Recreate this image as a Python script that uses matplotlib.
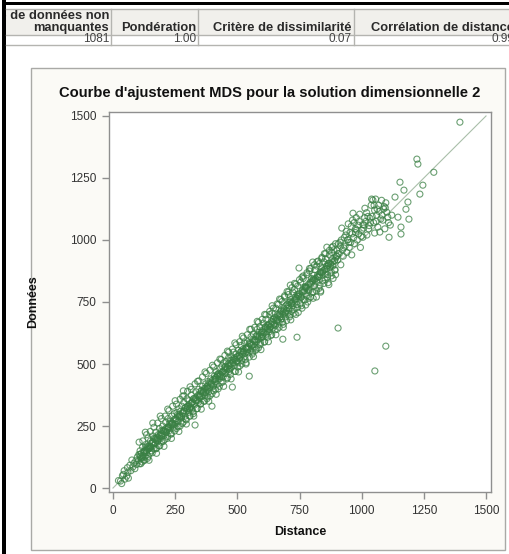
import numpy as np
import matplotlib.pyplot as plt
from matplotlib.patches import Rectangle

plt.rcParams['font.family'] = ['Liberation Sans', 'DejaVu Sans']

# tableau au-dessus du graphique
table_header = ["Nombre de données non\nmanquantes", "Pondération",
                "Critère de dissimilarité", "Corrélation de distance"]
table_values = ["1081", "1.00", "0.07", "0.99"]

title = "Courbe d'ajustement MDS pour la solution dimensionnelle 2"
xticks = [0, 250, 500, 750, 1000, 1250, 1500]
yticks = [0, 250, 500, 750, 1000, 1250, 1500]

# points, par tranche de distance
seg_a_x = [22, 30, 35, 38, 45, 48, 55, 60, 62, 68,
           72, 76, 80, 84, 88, 92, 95, 98, 58, 42]
seg_a_y = [30, 28, 18, 50, 70, 36, 48, 64, 40, 92,
           70, 113, 85, 100, 78, 110, 95, 125, 82, 55]

seg_b_x = [102, 104, 107, 109, 112, 114, 117, 119, 122, 124,
           127, 129, 131, 134, 136, 139, 141, 143, 146, 148,
           151, 153, 156, 158, 160, 163, 165, 168, 170, 172,
           175, 177, 180, 182, 185, 187, 190, 192, 195, 197,
           200, 202, 205, 207, 210, 212, 215, 217, 220, 222,
           225, 227, 230, 232, 235, 237, 240, 242, 245, 247,
           250, 252, 255, 257, 260, 262, 265, 267, 270, 272,
           275, 277, 280, 282, 285, 287, 290, 292, 295, 297,
           110, 125, 138, 150, 162, 178, 193, 208, 223, 238,
           253, 268, 283, 298, 118, 133, 148, 173, 198, 218]
seg_b_y = [110, 135, 98, 150, 120, 140, 105, 165, 130, 112,
           150, 128, 175, 142, 160, 120, 201, 158, 170, 140,
           190, 165, 150, 185, 210, 172, 158, 198, 180, 225,
           160, 205, 188, 215, 170, 240, 200, 222, 185, 210,
           250, 230, 212, 195, 238, 265, 225, 245, 208, 280,
           248, 232, 270, 255, 218, 290, 262, 245, 275, 300,
           258, 280, 240, 305, 288, 268, 320, 295, 250, 310,
           282, 330, 300, 265, 345, 312, 290, 325, 275, 360,
           128, 145, 155, 168, 182, 198, 215, 228, 242, 258,
           272, 288, 305, 318, 122, 150, 162, 195, 218, 236]

seg_c_x = [300, 303, 305, 308, 310, 313, 315, 318, 320, 323,
           325, 328, 330, 333, 335, 338, 340, 343, 345, 348,
           350, 353, 355, 358, 360, 363, 365, 368, 370, 373,
           375, 378, 380, 383, 385, 388, 390, 393, 395, 398,
           400, 403, 405, 408, 410, 413, 415, 418, 420, 423,
           425, 428, 430, 433, 435, 438, 440, 443, 445, 448,
           450, 453, 455, 458, 460, 463, 465, 468, 470, 473,
           475, 478, 480, 482, 485, 488, 490, 493, 495, 498,
           305, 318, 332, 345, 362, 378, 392, 408, 422, 438,
           452, 466, 482, 496, 312, 352, 372, 412, 432, 472]
seg_c_y = [330, 305, 352, 322, 290, 340, 375, 318, 348, 300,
           360, 335, 254, 388, 352, 320, 372, 345, 398, 365,
           380, 340, 392, 368, 410, 385, 350, 402, 375, 420,
           395, 360, 412, 430, 388, 405, 372, 440, 418, 330,
           435, 410, 392, 452, 428, 445, 470, 418, 455, 400,
           462, 440, 480, 455, 425, 492, 468, 448, 505, 475,
           488, 462, 510, 480, 445, 500, 525, 470, 495, 515,
           485, 530, 407, 505, 548, 495, 520, 470, 540, 512,
           335, 345, 362, 375, 392, 408, 422, 440, 452, 466,
           480, 492, 515, 525, 325, 372, 402, 438, 458, 502]

seg_d_x = [500, 503, 505, 508, 510, 513, 515, 518, 520, 523,
           525, 528, 530, 533, 535, 538, 540, 543, 545, 548,
           550, 553, 555, 558, 560, 563, 565, 568, 570, 573,
           575, 578, 580, 583, 585, 588, 590, 593, 595, 598,
           600, 603, 605, 608, 610, 613, 615, 618, 620, 623,
           625, 628, 630, 633, 635, 638, 640, 643, 645, 648,
           650, 653, 655, 658, 660, 663, 665, 668, 670, 673,
           675, 678, 680, 683, 685, 688, 690, 693, 695, 698,
           508, 522, 537, 552, 567, 582, 597, 612, 627, 642,
           657, 672, 687, 512, 542, 572, 602, 632, 662, 692]
seg_d_y = [530, 505, 555, 522, 492, 548, 575, 515, 540, 560,
           548, 585, 530, 565, 505, 560, 590, 545, 570, 451,
           582, 555, 610, 575, 540, 598, 620, 568, 595, 555,
           612, 590, 640, 600, 565, 628, 650, 585, 620, 605,
           635, 610, 665, 625, 590, 648, 680, 620, 655, 640,
           660, 630, 700, 650, 615, 672, 705, 645, 680, 660,
           688, 655, 725, 675, 640, 700, 740, 668, 705, 690,
           712, 682, 752, 700, 660, 725, 770, 690, 735, 715,
           535, 552, 565, 580, 595, 612, 628, 642, 655, 670,
           685, 700, 718, 528, 558, 588, 618, 648, 680, 708]

seg_e_x = [700, 703, 705, 708, 710, 713, 715, 718, 720, 723,
           725, 728, 730, 733, 735, 738, 740, 743, 745, 748,
           750, 753, 755, 758, 760, 763, 765, 768, 770, 773,
           775, 778, 780, 783, 785, 788, 790, 793, 795, 798,
           800, 803, 805, 808, 810, 813, 815, 818, 820, 823,
           825, 828, 830, 833, 835, 838, 840, 843, 845, 848,
           850, 853, 855, 858, 860, 863, 865, 868, 870, 873,
           875, 878, 880, 883, 885, 888, 890, 893, 895, 898,
           705, 718, 732, 748, 762, 778, 792, 808, 822, 838,
           852, 866, 882, 896, 712, 742, 772, 802, 832, 862]
seg_e_y = [740, 705, 780, 725, 690, 818, 760, 712, 745, 790,
           752, 720, 800, 770, 700, 765, 740, 815, 775, 887,
           785, 742, 830, 770, 725, 800, 845, 760, 795, 812,
           808, 775, 860, 750, 820, 795, 875, 830, 770, 845,
           830, 911, 790, 858, 815, 880, 845, 770, 895, 860,
           850, 805, 905, 870, 790, 888, 930, 835, 875, 912,
           880, 840, 925, 895, 971, 860, 905, 820, 940, 890,
           905, 870, 950, 925, 845, 960, 915, 880, 985, 935,
           735, 748, 762, 780, 795, 810, 825, 840, 852, 868,
           882, 898, 912, 928, 752, 772, 805, 835, 860, 895]

seg_f_x = [900, 903, 906, 910, 913, 916, 920, 923, 926, 930,
           933, 936, 940, 943, 946, 950, 953, 956, 960, 963,
           965, 968, 972, 975, 978, 982, 985, 988, 992, 995,
           1000, 1005, 1008, 1013, 1017, 1021, 1025, 1030, 1033, 1038,
           1040, 1045, 1048, 1052, 1056, 1060, 1065, 1068, 1073, 1077,
           1080, 1085, 1088, 1093, 1097, 1101, 1105, 1110, 1115, 1121,
           915, 945, 975, 1005, 1035, 1062, 1090, 1012, 958, 1052,
           905, 918, 928, 938, 948, 962, 970, 980, 990, 998,
           1010, 1020, 1028, 1042, 1050, 1058, 1070, 1082, 1095, 1108]
seg_f_y = [959, 920, 985, 945, 991, 900, 1048, 960, 935, 1010,
           975, 1020, 950, 1000, 1065, 970, 1030, 990, 940, 1080,
           1108, 1010, 985, 1045, 1090, 1000, 1060, 1025, 1104, 970,
           1040, 1011, 1048, 1128, 1075, 1020, 1095, 1058, 1088, 1140,
           1165, 1161, 1070, 1120, 1165, 1100, 1052, 1140, 1032, 1085,
           1160, 1080, 1125, 1045, 1150, 1112, 1092, 1011, 1060, 1100,
           975, 1002, 1030, 1062, 1070, 1125, 1135, 1090, 1055, 1028,
           945, 1000, 968, 1035, 990, 1025, 1070, 1040, 1075, 1015,
           1060, 1110, 1045, 1095, 1140, 1075, 1115, 1100, 1130, 1070]

seg_g_x = [1134, 1146, 1154, 1158, 1158, 1170, 1178, 1186, 1190, 1222,
           1226, 1234, 1246, 1290, 1395]
seg_g_y = [1173, 1092, 1233, 1052, 1024, 1201, 1124, 1153, 1084, 1326,
           1306, 1185, 1221, 1273, 1475]

# bords de la bande (intérieur et extérieur) et son centre
upper_x = [105, 120, 135, 150, 165, 180, 195, 210, 225, 240,
           255, 270, 285, 300, 315, 330, 345, 360, 375, 390,
           405, 420, 435, 450, 465, 480, 495, 510, 525, 540,
           555, 570, 585, 600, 615, 630, 645, 660, 675, 690,
           705, 720, 735, 750, 765, 780, 795, 810, 825, 840,
           855, 870, 885]
upper_y = [185, 190, 215, 228, 245, 262, 280, 290, 312, 330,
           338, 358, 372, 390, 398, 420, 432, 448, 462, 475,
           488, 505, 518, 535, 548, 560, 578, 590, 605, 618,
           640, 648, 668, 680, 698, 712, 725, 742, 760, 775,
           790, 808, 822, 840, 855, 868, 885, 900, 915, 925,
           945, 958, 975]
lower_x = [112, 128, 142, 158, 172, 188, 202, 218, 232, 248,
           262, 278, 292, 308, 322, 338, 352, 368, 382, 398,
           412, 428, 442, 458, 472, 488, 502, 518, 532, 548,
           562, 578, 592, 608, 622, 638, 652, 668, 682, 698,
           712, 728, 742, 758, 772, 788, 802, 818, 832, 848,
           862, 878, 892]
lower_y = [98, 112, 128, 142, 158, 170, 188, 200, 218, 230,
           248, 260, 278, 290, 308, 320, 338, 350, 368, 380,
           398, 410, 428, 440, 458, 470, 488, 500, 518, 528,
           548, 560, 578, 588, 608, 618, 638, 648, 668, 675,
           698, 705, 728, 735, 758, 765, 790, 795, 818, 825,
           848, 855, 878]
upper2_x = [130, 160, 190, 220, 250, 280, 310, 340, 370, 400,
            430, 460, 490, 520, 550, 580, 610, 640, 670, 700,
            730, 760, 790, 820, 850, 880]
upper2_y = [225, 262, 290, 318, 352, 370, 408, 430, 468, 495,
            520, 552, 585, 612, 640, 672, 700, 735, 762, 792,
            825, 850, 885, 912, 945, 970]
lower2_x = [145, 175, 205, 235, 265, 295, 325, 355, 385, 415,
            445, 475, 505, 535, 565, 595, 625, 655, 685, 715,
            745, 775, 805, 835, 865, 895]
lower2_y = [112, 140, 168, 200, 228, 258, 290, 318, 350, 378,
            410, 440, 468, 500, 530, 558, 590, 618, 648, 678,
            708, 738, 765, 795, 828, 860]
core_x = [108, 124, 140, 156, 172, 188, 204, 220, 236, 252,
          268, 284, 300, 316, 332, 348, 364, 380, 396, 412,
          428, 444, 460, 476, 492, 508, 524, 540, 556, 572,
          588, 604, 620, 636, 652, 668, 684, 700, 716, 732,
          748, 764, 780, 796, 812, 828, 844, 860, 876, 892]
core_y = [135, 148, 168, 180, 200, 212, 232, 243, 262, 278,
          290, 310, 322, 342, 355, 372, 390, 402, 420, 438,
          450, 470, 485, 500, 518, 532, 548, 566, 580, 598,
          612, 630, 645, 662, 676, 695, 710, 725, 742, 758,
          772, 790, 805, 822, 838, 852, 870, 885, 900, 918]
core2_x = [116, 132, 148, 164, 180, 196, 212, 228, 244, 260,
           276, 292, 308, 324, 340, 356, 372, 388, 404, 420,
           436, 452, 468, 484, 500, 516, 532, 548, 564, 580,
           596, 612, 628, 644, 660, 676, 692, 708, 724, 740,
           756, 772, 788, 804, 820, 836, 852, 868, 884, 900]
core2_y = [125, 165, 160, 200, 192, 232, 225, 262, 255, 295,
           290, 325, 318, 360, 352, 392, 385, 425, 415, 458,
           448, 490, 478, 522, 512, 552, 545, 585, 578, 618,
           610, 650, 640, 682, 672, 715, 705, 748, 735, 780,
           768, 810, 800, 842, 832, 872, 862, 905, 895, 935]

outliers_x = [283, 683, 740, 905, 1053, 1097]
outliers_y = [392, 600, 608, 645, 472, 572]

distance = np.array(seg_a_x + seg_b_x + seg_c_x + seg_d_x + seg_e_x
                    + seg_f_x + seg_g_x + upper_x + lower_x + upper2_x
                    + lower2_x + core_x + core2_x + outliers_x, dtype=float)
donnees = np.array(seg_a_y + seg_b_y + seg_c_y + seg_d_y + seg_e_y
                   + seg_f_y + seg_g_y + upper_y + lower_y + upper2_y
                   + lower2_y + core_y + core2_y + outliers_y, dtype=float)

W, H = 510, 554
fig = plt.figure(figsize=(W / 100, H / 100), dpi=100)
fig.patch.set_facecolor('white')

# fond en coordonnées pixels
bg = fig.add_axes([0, 0, 1, 1])
bg.set_xlim(0, W)
bg.set_ylim(H, 0)
bg.axis('off')

# cadre noir gauche / haut
bg.add_patch(Rectangle((2, 0), 4, H, color='black', lw=0))
bg.add_patch(Rectangle((2, 2), W, 3, color='black', lw=0))

# tableau
col_edges = [6, 111, 198, 354, 516]
row_top, row_mid, row_bot = 9, 35, 45
grid = '#b4b4b0'
bg.add_patch(Rectangle((6, row_top), W, row_mid - row_top,
                       facecolor='#f1f0ec', edgecolor='none'))
for y in (row_top, row_mid, row_bot):
    bg.plot([6, W], [y, y], color=grid, lw=1)
for x in col_edges[1:-1]:
    bg.plot([x, x], [row_top, row_bot], color=grid, lw=1)

tbl = fig.add_axes([6 / W, 0, 1 - 6 / W, 1])
tbl.set_xlim(6, W)
tbl.set_ylim(H, 0)
tbl.axis('off')
for i, (hdr, val) in enumerate(zip(table_header, table_values)):
    xr = col_edges[i + 1] - 2
    tbl.text(xr, row_mid - 1, hdr, ha='right', va='bottom', fontsize=9.3,
             fontweight='bold', color='#2a2a2a', linespacing=0.95,
             clip_on=True)
    tbl.text(xr, row_bot, val, ha='right', va='bottom', fontsize=8.5,
             color='#444444', clip_on=True)

# panneau du graphique
bg.add_patch(Rectangle((31, 68), 474, 482, facecolor='#fbfaf6',
                       edgecolor='#a9a9a6', lw=1))
bg.text(270, 93, title, ha='center', va='center', fontsize=10.6,
        fontweight='bold', color='#111111')

# nuage de points
ax = fig.add_axes([109 / W, 62 / H, 382 / W, 380 / H])
ax.set_facecolor('white')
ax.plot([0, 1500], [0, 1500], color='#a9bfa9', lw=0.8, zorder=1)
ax.scatter(distance, donnees, s=19, facecolors='none',
           edgecolors='#3a8044', linewidths=0.8, alpha=0.75, zorder=2)
ax.set_xlim(-16, 1520)
ax.set_ylim(-16, 1516)
ax.set_xticks(xticks)
ax.set_yticks(yticks)
for s in ax.spines.values():
    s.set_color('#8f8f8f')
    s.set_linewidth(1)
ax.tick_params(direction='out', length=5, width=1, color='#8f8f8f',
               labelsize=8.5, labelcolor='#333333', pad=4)
ax.set_xlabel('Distance', fontsize=9, fontweight='bold', color='#111111')
ax.set_ylabel('Données', fontsize=9, fontweight='bold', color='#111111')
ax.xaxis.set_label_coords(0.5, -32 / 380 - 0.005)
ax.yaxis.set_label_coords(-70 / 382, 0.5)

fig.savefig('out.png', dpi=100)
